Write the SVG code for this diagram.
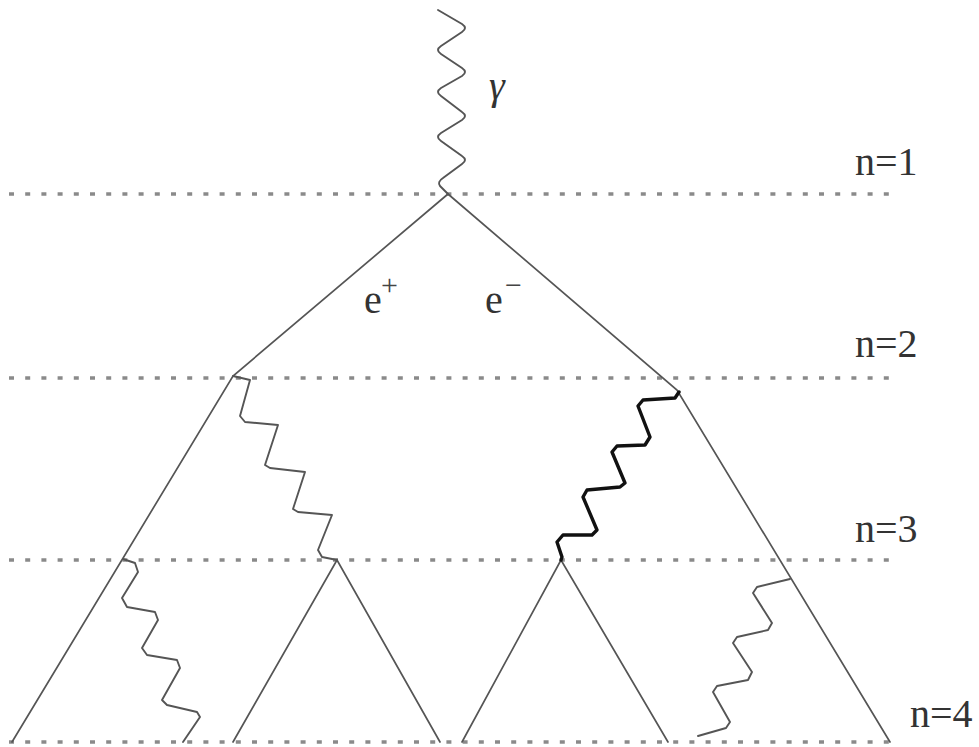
<svg xmlns="http://www.w3.org/2000/svg" width="979" height="747" viewBox="0 0 979 747">
<style>
.lvl{stroke:#8a8a8a;stroke-width:3.5;stroke-dasharray:5 11.2;fill:none}
.ln{stroke:#555;stroke-width:1.7;fill:none;stroke-linecap:round}
.ph{stroke:#555;stroke-width:1.9;fill:none;stroke-linejoin:round;stroke-linecap:round}
.phk{stroke:#111;stroke-width:3.4;fill:none;stroke-linejoin:round;stroke-linecap:round}
text{font-family:'Liberation Serif','DejaVu Serif',serif;fill:#333}
.t{font-size:40px}
.sup{font-size:30px;fill:#444}
</style>
<rect width="979" height="747" fill="#fff"/>
<g id="levels">
<line class="lvl" x1="9" y1="194" x2="892" y2="194"/>
<line class="lvl" x1="9" y1="378" x2="892" y2="378"/>
<line class="lvl" x1="9" y1="560" x2="892" y2="560"/>
<line class="lvl" x1="9" y1="742" x2="892" y2="742"/>
</g>
<g id="level-labels">
<text class="t" x="855" y="175" font-family="Liberation Serif, serif">n=1</text>
<text class="t" x="855" y="357" font-family="Liberation Serif, serif">n=2</text>
<text class="t" x="855" y="542" font-family="Liberation Serif, serif">n=3</text>
<text class="t" x="910" y="727" font-family="Liberation Serif, serif">n=4</text>
</g>
<g id="connectors">
<polyline class="ln" points="448,194 233,376 12,742"/>
<polyline class="ln" points="448,194 677,390 890,742"/>
<polyline class="ln" points="233,742 337,560 440,742"/>
<polyline class="ln" points="462,742 561,560 668,742"/>
</g>
<g id="photon-gamma">
<path class="ph" d="M438,10 L462,24 Q468,28 462,32 L441,46 Q435,50 441,54 L462,68 Q468,72 462,76 L441,88 Q435,92 441,96 L462,112 Q468,116 462,120 L441,133 Q435,137 441,141 L462,156 Q468,160 462,164 L443,178 Q437,182 440,186 L448,194"/>
<text class="t" x="489" y="99" font-style="italic" font-size="44" font-family="Liberation Serif, serif">γ</text>
</g>
<g id="photon-left-n2">
<polyline class="ph" points="233,376 250,380 240,416 245,422 278,425 265,465 270,468 305,472 293,509 298,512 332,515 318,550 322,557 337,560"/>
</g>
<g id="photon-right-n2">
<polyline class="phk" points="679,392 675,398 643,400 638,406 650,437 645,445 617,446 612,452 625,483 620,487 587,490 583,497 597,530 592,535 563,535 557,542 562,557 561,560"/>
</g>
<g id="photon-left-n3">
<polyline class="ph" points="123,559 135,563 138,572 122,598 127,607 155,612 158,620 142,648 147,655 177,660 180,668 162,700 167,705 197,712 200,717 183,742"/>
</g>
<g id="photon-right-n3">
<polyline class="ph" points="790,579 757,587 753,593 772,623 768,630 737,637 733,643 752,672 748,680 717,686 713,692 730,722 726,728 698,736"/>
</g>
<g id="particle-labels">
<text class="t" x="364" y="313" font-family="Liberation Serif, serif">e</text>
<text class="sup" x="381" y="295" font-family="Liberation Serif, serif">+</text>
<text class="t" x="485" y="313" font-family="Liberation Serif, serif">e</text>
<text class="sup" x="505" y="295" font-family="Liberation Serif, serif">−</text>
</g>
</svg>
